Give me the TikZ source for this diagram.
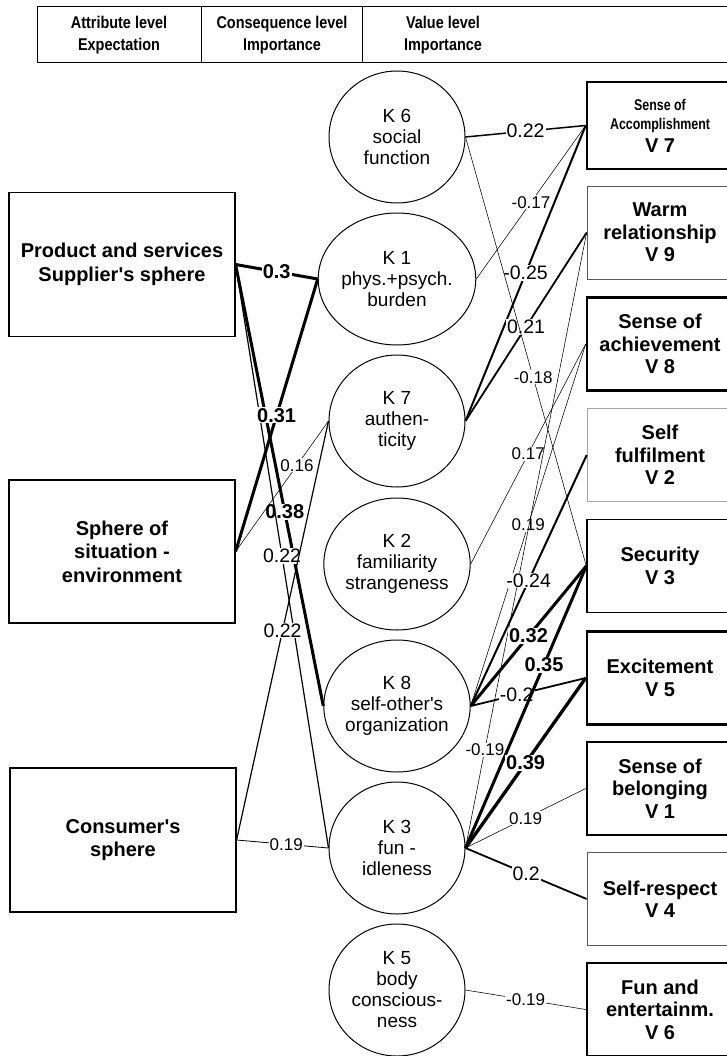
\documentclass[tikz,border=0pt]{standalone}
\usepackage{fontspec}
\usepackage{graphicx}
\setmainfont{Liberation Sans}
\usetikzlibrary{shapes.geometric}
\newcommand{\hdrline}[1]{\scalebox{0.85}[1]{#1}}
\begin{document}
\begin{tikzpicture}[x=1pt,y=-1pt,
  hdr/.style={font=\fontsize{17}{22}\selectfont\bfseries, align=center, inner sep=0pt},
  lbox/.style={draw, line width=1.2pt, minimum width=226pt, minimum height=144pt, inner sep=0pt, align=center, font=\fontsize{20}{23.5}\selectfont\bfseries},
  kc/.style={ellipse, draw, line width=1pt, minimum width=136pt, minimum height=132pt, inner sep=0pt, align=center, font=\fontsize{19}{21}\selectfont},
  vbox/.style={draw, minimum width=146pt, minimum height=93pt, inner sep=0pt, align=center, font=\fontsize{20}{22.5}\selectfont\bfseries},
  vthick/.style={vbox, line width=2.6pt},
  vmed/.style={vbox, line width=1.4pt},
  vthin/.style={vbox, line width=0.7pt, draw=black!65},
  vfaint/.style={vbox, line width=0.6pt, draw=black!35},
  cthin/.style={line width=0.55pt},
  cmed/.style={line width=1.5pt},
  cthick/.style={line width=3pt},
  lthin/.style={fill=white, inner sep=1pt, font=\fontsize{17}{17}\selectfont},
  lmed/.style={fill=white, inner sep=1pt, font=\fontsize{19.5}{19.5}\selectfont},
  lbold/.style={fill=white, inner sep=1pt, font=\fontsize{20}{20}\selectfont\bfseries},
]
\useasboundingbox (0,0) rectangle (727,1056);
\clip (0,0) rectangle (727,1056);

% header
\draw[line width=1pt] (37,7) rectangle (740,63);
\draw[line width=1pt] (201,7) -- (201,63);
\draw[line width=1pt] (362,7) -- (362,63);
\node[hdr] (h1) at (119,35.5) {\hdrline{Attribute level}\\\hdrline{Expectation}};
\node[hdr] (h2) at (282,35.5) {\hdrline{Consequence level}\\\hdrline{Importance}};
\node[hdr] (h3) at (443,35.5) {\hdrline{Value level}\\\hdrline{Importance}};

% attribute level
\node[lbox] (P) at (122,264.5) {Product and services\\Supplier\textquotesingle s sphere};
\node[lbox, minimum height=143pt] (S) at (122,551.5) {Sphere of\\situation -\\environment};
\node[lbox] (C) at (123,840) {Consumer\textquotesingle s\\sphere};

% consequence level
\node[kc] (K6) at (397,137) {K 6\\social\\function};
\node[kc] (K1) at (397,279) {K 1\\phys.+psych.\\burden};
\node[kc] (K7) at (397,421) {K 7\\authen-\\ticity};
\node[kc] (K2) at (397,564) {K 2\\familiarity\\strangeness};
\node[kc] (K8) at (397,706) {K 8\\self-other\textquotesingle s\\organization};
\node[kc] (K3) at (397,848) {K 3\\fun -\\idleness};
\node[kc] (K5) at (397,990) {K 5\\body\\conscious-\\ness};

% value level
\node[vthick, minimum height=87pt] (V7) at (660,125.5) {\scalebox{0.8}[1]{\fontsize{15.5}{18}\selectfont Sense of}\\[-3pt]\scalebox{0.8}[1]{\fontsize{15.5}{18}\selectfont Accomplishment}\\V 7};
\node[vthin] (V9) at (660,232.5) {Warm\\relationship\\V 9};
\node[vthick] (V8) at (660,344) {Sense of\\achievement\\V 8};
\node[vfaint] (V2) at (660,455) {Self\\fulfilment\\V 2};
\node[vmed] (V3) at (660,566) {Security\\V 3};
\node[vthick] (V5) at (660,678) {Excitement\\V 5};
\node[vthick] (V1) at (660,788.5) {Sense of\\belonging\\V 1};
\node[vthin] (V4) at (660,899) {Self-respect\\V 4};
\node[vthick] (V6) at (660,1009.5) {Fun and\\entertainm.\\V 6};

% attribute -> consequence
\draw[cthick] (P.east) -- node[lbold, pos=0.5] {0.3} (K1.west);
\draw[cthick] (P.east) -- node[lbold, pos=0.56] {0.38} (K8.west);
\draw[cmed, line width=1.2pt] (P.east) -- node[lmed, pos=0.5] {0.22} (K3.west);
\draw[cthick] (S.east) -- node[lbold, pos=0.5] {0.31} (K1.west);
\draw[cthin] (S.east) -- node[lthin, pos=0.66] {0.16} (K7.west);
\draw[cmed, line width=1.2pt] (C.east) -- node[lmed, pos=0.5] {0.22} (K7.west);
\draw[cthin, line width=0.8pt] (C.east) -- node[lthin, pos=0.54] {0.19} (K3.west);

% consequence -> value
\draw[cmed] (K6.east) -- node[lmed] {0.22} (V7.west);
\draw[cthin] (K1.east) -- node[lthin] {-0.17} (V7.west);
\draw[cmed, line width=2pt] (K7.east) -- node[lmed] {-0.25} (V7.west);
\draw[cmed, line width=1.8pt] (K7.east) -- node[lmed] {0.21} (V9.west);
\draw[cthin] (K6.east) -- node[lthin, pos=0.56] {-0.18} (V3.west);
\draw[cthin] (K2.east) -- node[lthin] {0.17} (V8.west);
\draw[cthin] (K8.east) -- node[lthin] {0.19} (V8.west);
\draw[cthin] (K3.east) -- node[lthin, pos=0.16] {-0.19} (V9.west);
\draw[cmed, line width=2pt] (K8.east) -- node[lmed] {-0.24} (V2.west);
\draw[cthick] (K8.east) -- node[lbold] {0.32} (V3.west);
\draw[cmed, line width=1.8pt] (K8.east) -- node[lmed, pos=0.4] {-0.2} (V5.west);
\draw[cthick] (K3.east) -- node[lbold, pos=0.65] {0.35} (V3.west);
\draw[cthick, line width=3.3pt] (K3.east) -- node[lbold] {0.39} (V5.west);
\draw[cthin] (K3.east) -- node[lthin] {0.19} (V1.west);
\draw[cmed, line width=1.8pt] (K3.east) -- node[lmed] {0.2} (V4.west);
\draw[cthin] (K5.east) -- node[lthin] {-0.19} (V6.west);
\end{tikzpicture}
\end{document}
